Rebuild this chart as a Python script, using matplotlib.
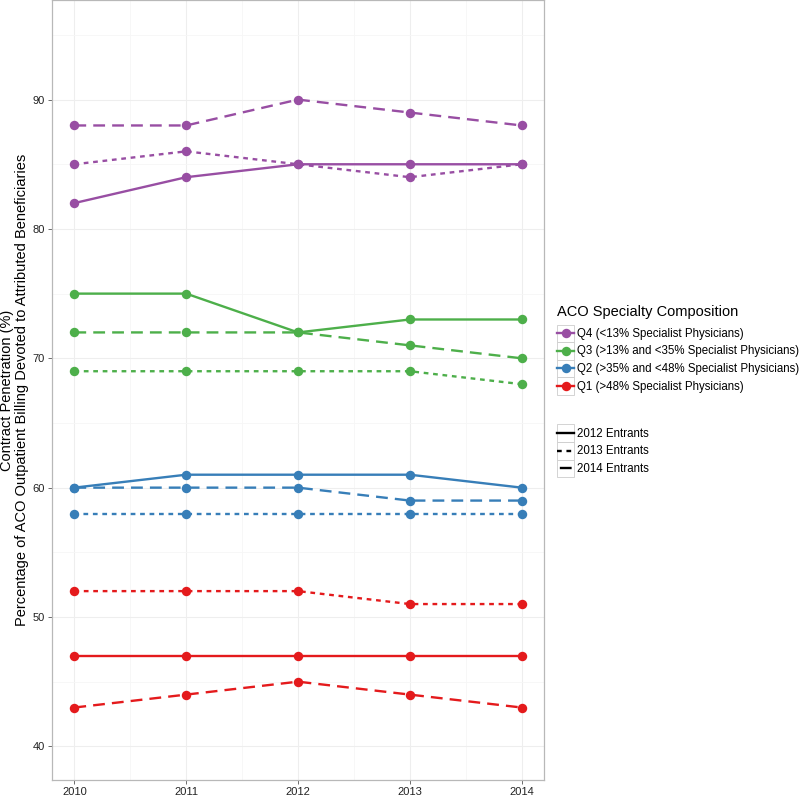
import numpy as np
import matplotlib
matplotlib.use('Agg')
import matplotlib.pyplot as plt
from matplotlib.lines import Line2D
from matplotlib.patches import Rectangle
from matplotlib.legend_handler import HandlerBase

plt.rcParams['font.family'] = ['Liberation Sans', 'DejaVu Sans']

years = [2010, 2011, 2012, 2013, 2014]

# Q4 (<13% specialists)
q4_2012 = [82, 84, 85, 85, 85]
q4_2013 = [85, 86, 85, 84, 85]
q4_2014 = [88, 88, 90, 89, 88]
# Q3 (>13% and <35%)
q3_2012 = [75, 75, 72, 73, 73]
q3_2013 = [69, 69, 69, 69, 68]
q3_2014 = [72, 72, 72, 71, 70]
# Q2 (>35% and <48%)
q2_2012 = [60, 61, 61, 61, 60]
q2_2013 = [58, 58, 58, 58, 58]
q2_2014 = [60, 60, 60, 59, 59]
# Q1 (>48%)
q1_2012 = [47, 47, 47, 47, 47]
q1_2013 = [52, 52, 52, 51, 51]
q1_2014 = [43, 44, 45, 44, 43]

group_labels = ['Q4 (<13% Specialist Physicians)',
                'Q3 (>13% and <35% Specialist Physicians)',
                'Q2 (>35% and <48% Specialist Physicians)',
                'Q1 (>48% Specialist Physicians)']
entrant_labels = ['2012 Entrants', '2013 Entrants', '2014 Entrants']

colors = ['#984EA3', '#4DAF4A', '#377EB8', '#E41A1C']
dash_styles = ['-', (0, (2, 2)), (0, (5, 3))]
key_styles = ['-', (0, (2, 2)), (6.8, (5, 3))]  # shifted so the key shows one centred dash

series = [
    [q4_2012, q4_2013, q4_2014],
    [q3_2012, q3_2013, q3_2014],
    [q2_2012, q2_2013, q2_2014],
    [q1_2012, q1_2013, q1_2014],
]


class KeyHandler(HandlerBase):
    """ggplot-like legend key: grey-edged box, line across, point in the middle"""
    def create_artists(self, legend, orig_handle, xdescent, ydescent,
                       width, height, fontsize, trans):
        x0, y0 = -xdescent, -ydescent
        cy = y0 + height / 2
        box = Rectangle((x0, y0), width, height, facecolor='white',
                        edgecolor='#cccccc', linewidth=0.6, transform=trans)
        line = Line2D([x0, x0 + width], [cy, cy])
        self.update_prop(line, orig_handle, legend)
        line.set_marker('None')
        line.set_transform(trans)
        pt = Line2D([x0 + width / 2], [cy])
        self.update_prop(pt, orig_handle, legend)
        pt.set_linestyle('None')
        pt.set_transform(trans)
        return [box, line, pt]


fig = plt.figure(figsize=(8, 7.98), dpi=100)
ax = fig.add_axes([0.065, 0.0226, 0.615, 0.9774])

for grp, col in zip(series, colors):
    for vals, ls in zip(grp, dash_styles):
        ax.plot(years, vals, color=col, linestyle=ls, lw=1.7,
                marker='o', markersize=6.8, markeredgewidth=0, zorder=3)

ax.set_xlim(2009.8, 2014.2)
ax.set_ylim(37.4, 97.7)
ax.set_xticks(years)
ax.set_xticks(np.arange(2010.5, 2014, 1), minor=True)
ax.set_yticks([40, 50, 60, 70, 80, 90])
ax.set_yticks([45, 55, 65, 75, 85, 95], minor=True)
ax.grid(True, which='major', color='#eeeeee', lw=0.8, zorder=0)
ax.grid(True, which='minor', color='#f6f6f6', lw=0.6, zorder=0)
ax.tick_params(which='major', length=3, width=0.6, color='#555555',
               labelsize=8, labelcolor='#222222', pad=2)
ax.tick_params(which='minor', length=0)
for s in ax.spines.values():
    s.set_color('#b8b8b8')
    s.set_linewidth(0.9)

ax.set_ylabel('Contract Penetration (%)\n'
              'Percentage of ACO Outpatient Billing Devoted to Attributed Beneficiaries',
              fontsize=10.5, linespacing=1.15)
ax.yaxis.set_label_coords(-0.046, 0.5)

common = dict(loc='upper left', fontsize=8.3, frameon=False,
              handlelength=1.52, handleheight=1.96, labelspacing=0.0,
              handletextpad=0.2, borderaxespad=0, borderpad=0,
              handler_map={Line2D: KeyHandler()})

# colour legend
h1 = [Line2D([], [], color=c, lw=1.7, marker='o', markersize=6.8,
             markeredgewidth=0) for c in colors]
leg1 = fig.legend(h1, group_labels, bbox_to_anchor=(0.696, 1 - 305 / 798),
                  title='ACO Specialty Composition', title_fontsize=10.5, **common)
leg1._legend_box.align = 'left'
leg1._legend_box.sep = 4  # gap between title and keys

# linetype legend
h2 = [Line2D([], [], color='black', lw=1.7, linestyle=ls) for ls in key_styles]
leg2 = fig.legend(h2, entrant_labels, bbox_to_anchor=(0.696, 1 - 424.5 / 798),
                  **common)

fig.savefig('out.png', dpi=100)
